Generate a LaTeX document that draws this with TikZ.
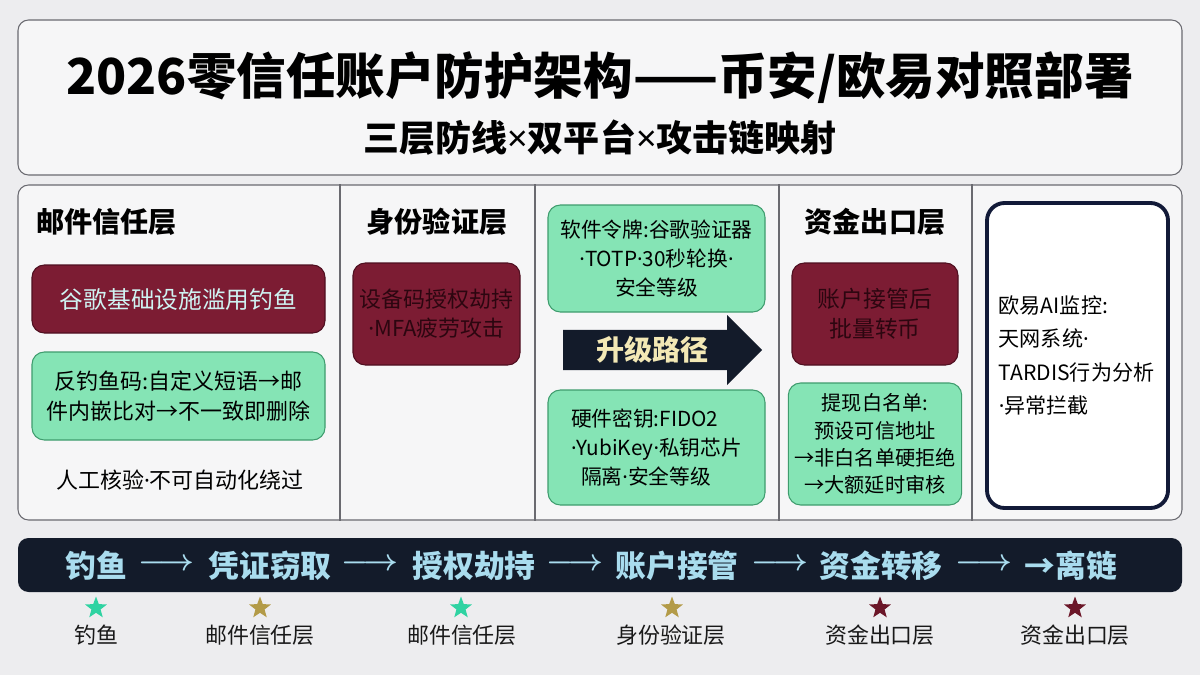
\documentclass[tikz,border=0pt]{standalone}
\usepackage{fontspec}
\setmainfont{Noto Sans CJK SC}
\newfontfamily\latinfont{Noto Sans}
\usepackage{tikz}
\usetikzlibrary{positioning,shapes.geometric,shapes.arrows}
\usepackage{xcolor}

\definecolor{pagebg}{HTML}{EDEDEF}
\definecolor{panelbg}{HTML}{F6F6F7}
\definecolor{frameln}{HTML}{6A6A70}
\definecolor{threat}{HTML}{7C1C33}
\definecolor{threatln}{HTML}{4E0F20}
\definecolor{threattx}{HTML}{2C0610}
\definecolor{threatlt}{HTML}{CFF3F2}
\definecolor{guard}{HTML}{85E4B5}
\definecolor{guardln}{HTML}{3F9C6E}
\definecolor{navy}{HTML}{131B2A}
\definecolor{watchln}{HTML}{121A38}
\definecolor{chaintx}{HTML}{A9DCEE}
\definecolor{pathtx}{HTML}{F3E8B5}
\definecolor{starteal}{HTML}{2FD3A2}
\definecolor{stargold}{HTML}{B39B48}
\definecolor{starred}{HTML}{6B1628}

% narrow separators
\newcommand\sep{{\latinfont\char"00B7}}
\newcommand\tms{{\latinfont\char"00D7}}

\begin{document}
\begin{tikzpicture}[
  panel/.style={draw=frameln, line width=0.6pt, fill=panelbg, rounded corners=6pt},
  divider/.style={draw=frameln, line width=0.8pt},
  layer/.style={font=\fontsize{16}{19}\selectfont\bfseries, text=black},
  threatbox/.style={draw=threatln, line width=0.6pt, fill=threat, rounded corners=7pt,
    align=center, font=\fontsize{12.5}{16.5}\selectfont, text=threattx},
  guardbox/.style={draw=guardln, line width=0.6pt, fill=guard, rounded corners=7pt,
    align=center, font=\fontsize{12}{16.5}\selectfont, text=black},
  chainitem/.style={font=\fontsize{17.5}{20}\selectfont\bfseries, text=chaintx},
  chainarrow/.style={font=\fontsize{17.5}{20}\selectfont\boldmath, text=chaintx},
  hit/.style={star, star points=5, star point ratio=2.4, minimum size=0.46cm, inner sep=0pt},
  hitlabel/.style={font=\fontsize{12.5}{15}\selectfont, text=black!90}
]
% page: 1px = 0.02cm
\fill[pagebg] (0,0) rectangle (24,13.5);
\useasboundingbox (0,0) rectangle (24,13.5);

% Title block
\node[panel, minimum width=23.28cm, minimum height=3.1cm] (head) at (12,11.55) {};
\node[font=\fontsize{28.2}{32}\selectfont\bfseries] (title) at (12,11.94) {2026零信任账户防护架构——币安/欧易对照部署};
\node[font=\fontsize{20.5}{24}\selectfont\bfseries] (subtitle) at (12,10.74) {三层防线\tms 双平台\tms 攻击链映射};

% Main grid — five columns
\node[panel, minimum width=23.28cm, minimum height=6.7cm] (grid) at (12,6.45) {};
\draw[divider] (6.8,0 |- grid.north) -- (6.8,0 |- grid.south);
\draw[divider] (10.7,0 |- grid.north) -- (10.7,0 |- grid.south);
\draw[divider] (15.58,0 |- grid.north) -- (15.58,0 |- grid.south);
\draw[divider] (19.44,0 |- grid.north) -- (19.44,0 |- grid.south);

% Column 1 — mail trust
\node[layer, anchor=west] (hmail) at (0.6,9.06) {邮件信任层};
\node[threatbox, text=threatlt, font=\fontsize{13.5}{16}\selectfont, minimum width=5.86cm, minimum height=1.36cm] (gphish) at (3.57,7.52) {谷歌基础设施滥用钓鱼};
\node[guardbox, font=\fontsize{12.5}{17}\selectfont, minimum width=5.86cm, minimum height=1.76cm] (antiphish) at (3.57,5.58) {反钓鱼码:自定义短语→邮\\件内嵌比对→不一致即删除};
\node[font=\fontsize{12.5}{15}\selectfont] (manual) at (3.6,3.9) {人工核验\sep 不可自动化绕过};

% Column 2 — identity
\node[layer] (hident) at (8.74,9.06) {身份验证层};
\node[threatbox, minimum width=3.34cm, minimum height=2.04cm] (devcode) at (8.73,7.22) {设备码授权劫持\\\sep MFA疲劳攻击};

% Column 3 — token upgrade
\node[guardbox, font=\fontsize{11.8}{16.5}\selectfont, minimum width=4.34cm, minimum height=2.14cm] (totp) at (13.13,8.33) {软件令牌:谷歌验证器\\\sep TOTP\sep 30秒轮换\sep\\安全等级};
\node[single arrow, fill=navy, text=pathtx, font=\fontsize{16}{19}\selectfont\bfseries,
  minimum height=3.98cm, minimum width=1.4cm, single arrow head extend=0.26cm,
  inner sep=2pt] (upgrade) at (13.05,6.5) {升级路径};
\node[guardbox, align=left, font=\fontsize{11.8}{16.5}\selectfont, minimum width=4.34cm, minimum height=2.3cm] (fido) at (13.13,4.55) {硬件密钥:FIDO2\\\sep YubiKey\sep 私钥芯片\\\hspace{0.2cm}隔离\sep 安全等级};

% Column 4 — fund exit
\node[layer] (hfund) at (17.5,9.06) {资金出口层};
\node[threatbox, font=\fontsize{13}{17}\selectfont, minimum width=3.32cm, minimum height=2.04cm] (takeover) at (17.5,7.22) {账户接管后\\批量转币};
\node[guardbox, font=\fontsize{11.5}{15.5}\selectfont, minimum width=3.32cm, minimum height=2.44cm] (whitelist) at (17.5,4.62) {提现白名单:\\预设可信地址\\→非白名单硬拒绝\\→大额延时审核};

% Column 5 — OKX monitor
\node[draw=watchln, line width=2.2pt, fill=white, rounded corners=10pt,
  minimum width=3.62cm, minimum height=6.1cm, text width=3.15cm, align=left,
  font=\fontsize{12}{19}\selectfont] (okxai) at (21.55,6.39) {欧易AI监控:\\天网系统\sep\\TARDIS行为分析\\\sep 异常拦截};

% Attack chain bar
\node[fill=navy, rounded corners=6pt, minimum width=23.28cm, minimum height=1.08cm] (chain) at (12,2.2) {};
\node[chainitem] (c1) at (1.92,2.18) {钓鱼};
\node[chainarrow] (a1) at (3.33,2.2) {$\longrightarrow$};
\node[chainitem] (c2) at (5.4,2.18) {凭证窃取};
\node[chainarrow] (a2) at (7.4,2.2) {$\longrightarrow$};
\node[chainitem] (c3) at (9.48,2.18) {授权劫持};
\node[chainarrow] (a3) at (11.5,2.2) {$\longrightarrow$};
\node[chainitem] (c4) at (13.54,2.18) {账户接管};
\node[chainarrow] (a4) at (15.6,2.2) {$\longrightarrow$};
\node[chainitem] (c5) at (17.62,2.18) {资金转移};
\node[chainarrow] (a5) at (19.68,2.2) {$\longrightarrow$};
\node[chainitem] (c6) at (21.42,2.18) {→离链};

% Stars — layer mapping
\node[hit, fill=starteal] (s1) at (1.92,1.34) {};
\node[hitlabel] (l1) at (1.92,0.8) {钓鱼};
\node[hit, fill=stargold] (s2) at (5.2,1.34) {};
\node[hitlabel] (l2) at (5.2,0.8) {邮件信任层};
\node[hit, fill=starteal] (s3) at (9.22,1.34) {};
\node[hitlabel] (l3) at (9.24,0.8) {邮件信任层};
\node[hit, fill=stargold] (s4) at (13.44,1.34) {};
\node[hitlabel] (l4) at (13.42,0.8) {身份验证层};
\node[hit, fill=starred] (s5) at (17.6,1.34) {};
\node[hitlabel] (l5) at (17.6,0.8) {资金出口层};
\node[hit, fill=starred] (s6) at (21.5,1.34) {};
\node[hitlabel] (l6) at (21.5,0.8) {资金出口层};
\end{tikzpicture}
\end{document}
